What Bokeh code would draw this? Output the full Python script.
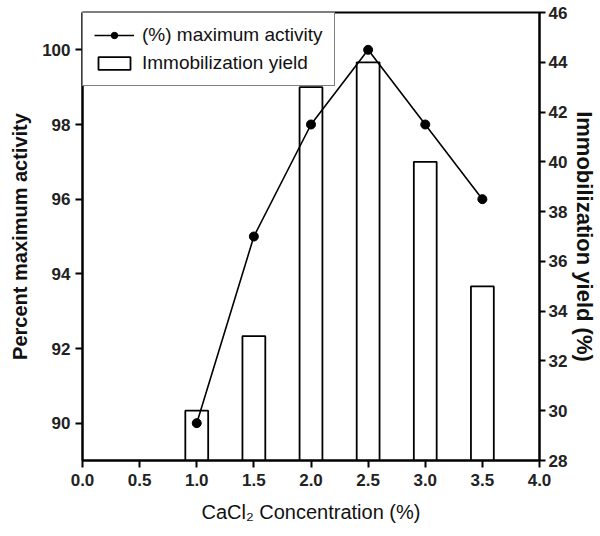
from bokeh.plotting import figure
from bokeh.models import (LinearAxis, Range1d, FixedTicker, Legend, LegendItem,
                          NumeralTickFormatter)
from bokeh.embed import file_html
from bokeh.resources import INLINE

# Data
concentration = [1.0, 1.5, 2.0, 2.5, 3.0, 3.5]
max_activity = [90, 95, 98, 100, 98, 96]
immob_yield = [30, 33, 43, 44, 40, 35]

x_ticks = [0.0, 0.5, 1.0, 1.5, 2.0, 2.5, 3.0, 3.5, 4.0]
left_ticks = [90, 92, 94, 96, 98, 100]
right_ticks = [28, 30, 32, 34, 36, 38, 40, 42, 44, 46]

TICK_FONT = "Liberation Sans Narrow, Liberation Sans, Arial"
LABEL_FONT = "Liberation Sans, Arial"

p = figure(width=600, height=536, x_range=Range1d(0, 4), y_range=Range1d(89, 101),
           output_backend="svg", toolbar_location=None, title=None,
           min_border_left=82, min_border_right=58, min_border_top=12, min_border_bottom=76)
p.extra_y_ranges = {"yield": Range1d(28, 46)}
p.grid.visible = False
p.background_fill_color = "white"
p.border_fill_color = "white"
p.outline_line_color = "black"
p.outline_line_width = 2

bars = p.vbar(x=concentration, top=immob_yield, bottom=28, width=0.2, y_range_name="yield",
              fill_color="white", line_color="black", line_width=1.8)
line = p.line(concentration, max_activity, line_color="black", line_width=1.6)
dots = p.scatter(concentration, max_activity, size=9, color="black")

def style_axis(ax):
    ax.axis_line_width = 2
    ax.axis_line_color = "black"
    ax.major_tick_line_width = 2
    ax.major_tick_line_color = "black"
    ax.major_tick_in = 0
    ax.major_tick_out = 7
    ax.minor_tick_line_color = None
    ax.major_label_text_font = TICK_FONT
    ax.major_label_text_font_style = "bold"
    ax.major_label_text_font_size = "17px"
    ax.major_label_text_color = "#222222"
    ax.axis_label_text_font = LABEL_FONT
    ax.axis_label_text_color = "#111111"

xa = p.xaxis[0]
xa.ticker = FixedTicker(ticks=x_ticks)
xa.formatter = NumeralTickFormatter(format="0.0")
style_axis(xa)
xa.axis_label = "CaCl\u2082 Concentration (%)"
xa.axis_label_text_font_size = "20px"
xa.axis_label_text_font_style = "normal"
xa.axis_label_standoff = 12
xa.major_label_standoff = 6

ya = p.yaxis[0]
ya.ticker = FixedTicker(ticks=left_ticks)
style_axis(ya)
ya.axis_label = "Percent maximum activity"
ya.axis_label_text_font_size = "20px"
ya.axis_label_text_font_style = "bold"
ya.axis_label_standoff = 8
ya.major_label_standoff = 5

ra = LinearAxis(y_range_name="yield", ticker=FixedTicker(ticks=right_ticks))
style_axis(ra)
ra.major_tick_out = 6
ra.axis_label = "Immobilization yield (%)"
ra.axis_label_text_font_size = "22px"
ra.axis_label_text_font_style = "bold"
ra.axis_label_standoff = 2
ra.major_label_standoff = 3
p.add_layout(ra, "right")

legend = Legend(items=[LegendItem(label="(%) maximum activity", renderers=[line, dots]),
                       LegendItem(label="Immobilization yield", renderers=[bars])],
                location="top_left", margin=0, padding=11, spacing=6,
                glyph_width=40, glyph_height=16, label_height=16, label_standoff=8,
                border_line_color="black", border_line_width=1.5,
                background_fill_color="white", background_fill_alpha=1,
                label_text_font=LABEL_FONT, label_text_font_size="19px",
                label_text_color="#111111")
p.add_layout(legend)

open("out.html", "w").write(file_html(p, INLINE))
